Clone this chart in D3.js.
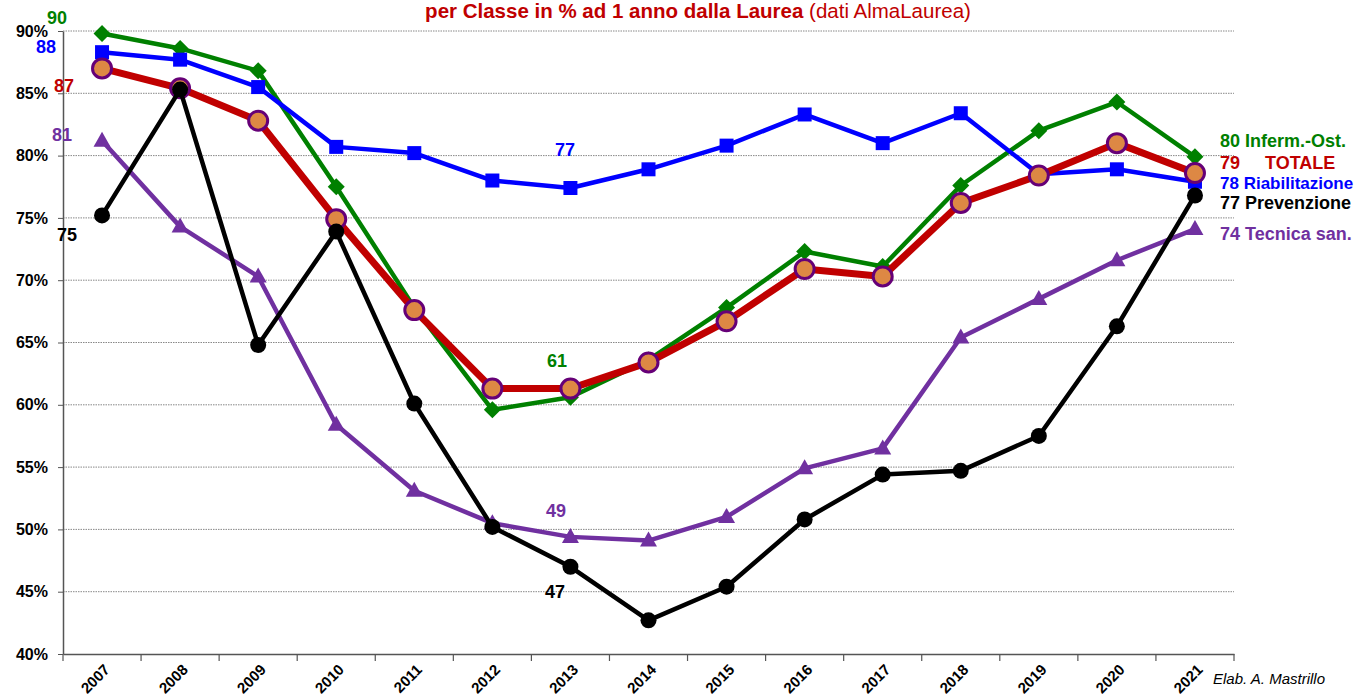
<!DOCTYPE html>
<html><head><meta charset="utf-8">
<script src="https://cdn.jsdelivr.net/npm/d3@7"></script>
<style>body{margin:0;background:#fff;font-family:"Liberation Sans",Arial,sans-serif}</style>
</head><body>
<svg id="c" width="1360" height="700"></svg>
<script>
const years = ["2007","2008","2009","2010","2011","2012","2013","2014","2015","2016","2017","2018","2019","2020","2021"];
const yTicks = [40,45,50,55,60,65,70,75,80,85,90];
const infermOst   = [89.8,88.6,86.8,77.5,67.8,59.6,60.6,63.6,67.8,72.3,71.1,77.6,82.0,84.3,79.9];
const riabilitaz  = [88.3,87.7,85.5,80.7,80.2,78.0,77.4,78.9,80.8,83.3,81.0,83.4,78.5,78.9,77.9];
const totale      = [87.0,85.4,82.8,74.9,67.6,61.3,61.3,63.4,66.7,70.9,70.3,76.2,78.4,81.0,78.6];
const prevenzione = [75.2,85.3,64.8,73.9,60.1,50.2,47.0,42.7,45.4,50.8,54.4,54.7,57.5,66.3,76.8];
const tecnicaSan  = [81.2,74.3,70.3,58.4,53.1,50.5,49.4,49.1,51.0,54.9,56.5,65.4,68.5,71.6,74.1];
const seriesNames = ["Inferm.-Ost.","TOTALE","Riabilitazione","Prevenzione","Tecnica san."];

const svg = d3.select("#c");
const L=63, R=1234, T=31, B=654;
const x = d3.scaleBand().domain(years).range([L,R]);
const y = d3.scaleLinear().domain([40,90]).range([B,T]);
const cx = d => x(d)+x.bandwidth()/2;

// gridlines
svg.append("g").selectAll("line").data(yTicks.filter(t=>t>40)).join("line")
  .attr("x1",L).attr("x2",R).attr("y1",d=>y(d)).attr("y2",d=>y(d))
  .attr("stroke","#888").attr("stroke-width",1).attr("stroke-dasharray","1.5,1");

// axes
const ya = svg.append("g").attr("transform",`translate(${L},0)`)
  .call(d3.axisLeft(y).tickValues(yTicks).tickFormat(d=>d+"%").tickSize(5).tickSizeOuter(0));
ya.attr("font-size",null).attr("font-family",null);
ya.select(".domain").attr("stroke","#555").attr("stroke-width",1.5);
ya.selectAll(".tick line").attr("stroke","#555");
ya.selectAll("text").style("font-size","16px").style("font-weight","bold").attr("fill","#000").attr("x",-15);

const xa = svg.append("g").attr("transform",`translate(0,${B})`)
  .call(d3.axisBottom(x).tickSize(0).tickSizeOuter(0));
xa.attr("font-size",null).attr("font-family",null);
xa.select(".domain").attr("stroke","#555").attr("stroke-width",1.5);
xa.selectAll("text").style("font-size","15px").style("font-weight","bold").attr("fill","#000")
  .attr("text-anchor","end").attr("y",0).attr("dy","0.35em")
  .attr("transform","translate(5,13) rotate(-45)");
// boundary ticks
const bounds = years.map(d=>x(d)).concat([R]);
svg.append("g").selectAll("line").data(bounds).join("line")
  .attr("x1",d=>d).attr("x2",d=>d).attr("y1",B).attr("y2",B+7).attr("stroke","#555").attr("stroke-width",1.2);

const line = d3.line().x((d,i)=>cx(years[i])).y(d=>y(d));

function drawSeries(vals,color,width,marker){
  const g=svg.append("g");
  g.append("path").datum(vals).attr("d",line).attr("fill","none").attr("stroke",color).attr("stroke-width",width).attr("stroke-linejoin","round");
  const pts=g.selectAll("g.m").data(vals).join("g").attr("transform",(d,i)=>`translate(${cx(years[i])},${y(d)})`);
  marker(pts);
}

drawSeries(tecnicaSan,"#7030a0",4.5,p=>p.append("path").attr("d","M0,-9 L8.5,6 L-8.5,6 Z").attr("fill","#7030a0"));
drawSeries(infermOst,"#008000",4.5,p=>p.append("path").attr("d","M0,-8.5 L8.5,0 L0,8.5 L-8.5,0 Z").attr("fill","#008000"));
drawSeries(riabilitaz,"#0000ff",4.5,p=>p.append("rect").attr("x",-7).attr("y",-7).attr("width",14).attr("height",14).attr("fill","#0000ff"));
drawSeries(totale,"#c00000",7,p=>p.append("circle").attr("r",9.5).attr("fill","#dd8844").attr("stroke","#660077").attr("stroke-width",3));
drawSeries(prevenzione,"#000",4.5,p=>p.append("circle").attr("r",8).attr("fill","#000"));

// title
const t=svg.append("text").attr("x",698).attr("y",18).attr("text-anchor","middle").attr("font-size",20.5).attr("fill","#c00000");
t.append("tspan").attr("font-weight","bold").text("per Classe in % ad 1 anno dalla Laurea ");
t.append("tspan").text("(dati AlmaLaurea)");

// value annotations
const ann=[
  {t:Math.round(infermOst[0]),x:57,y:24,c:"#008000"},
  {t:Math.round(riabilitaz[0]),x:46,y:53,c:"#0000ff"},
  {t:Math.round(totale[0]),x:64,y:92,c:"#c00000"},
  {t:Math.round(tecnicaSan[0]),x:62,y:141,c:"#7030a0"},
  {t:Math.round(prevenzione[0]),x:67,y:241,c:"#000"},
  {t:Math.round(riabilitaz[6]),x:565,y:156,c:"#0000ff"},
  {t:Math.round(infermOst[6]),x:557,y:367,c:"#008000"},
  {t:Math.round(tecnicaSan[6]),x:556,y:517,c:"#7030a0"},
  {t:Math.round(prevenzione[6]),x:555,y:598,c:"#000"}
];
svg.append("g").selectAll("text").data(ann).join("text")
  .attr("x",d=>d.x).attr("y",d=>d.y).attr("text-anchor","middle").attr("font-size",18).attr("font-weight","bold")
  .attr("fill",d=>d.c).text(d=>d.t);

// right labels
const rl=[
  {v:Math.round(infermOst[14]),n:seriesNames[0],y:147,c:"#008000",sz:18,gap:" "},
  {v:Math.round(totale[14]),n:seriesNames[1],y:169,c:"#c00000",sz:18,gap:"\u00a0\u00a0\u00a0\u00a0\u00a0"},
  {v:Math.round(riabilitaz[14]),n:seriesNames[2],y:189,c:"#0000ff",sz:17,gap:" "},
  {v:Math.round(prevenzione[14]),n:seriesNames[3],y:209,c:"#000",sz:18,gap:" "},
  {v:Math.round(tecnicaSan[14]),n:seriesNames[4],y:240,c:"#7030a0",sz:18,gap:" "}
];
svg.append("g").selectAll("text").data(rl).join("text")
  .attr("x",1220).attr("y",d=>d.y).attr("font-size",d=>d.sz).attr("font-weight","bold").attr("fill",d=>d.c)
  .attr("xml:space","preserve").text(d=>d.v+d.gap+d.n);

svg.append("text").attr("x",1213).attr("y",684).attr("font-size",15).attr("font-style","italic").attr("fill","#000").text("Elab. A. Mastrillo");
</script>
</body></html>
